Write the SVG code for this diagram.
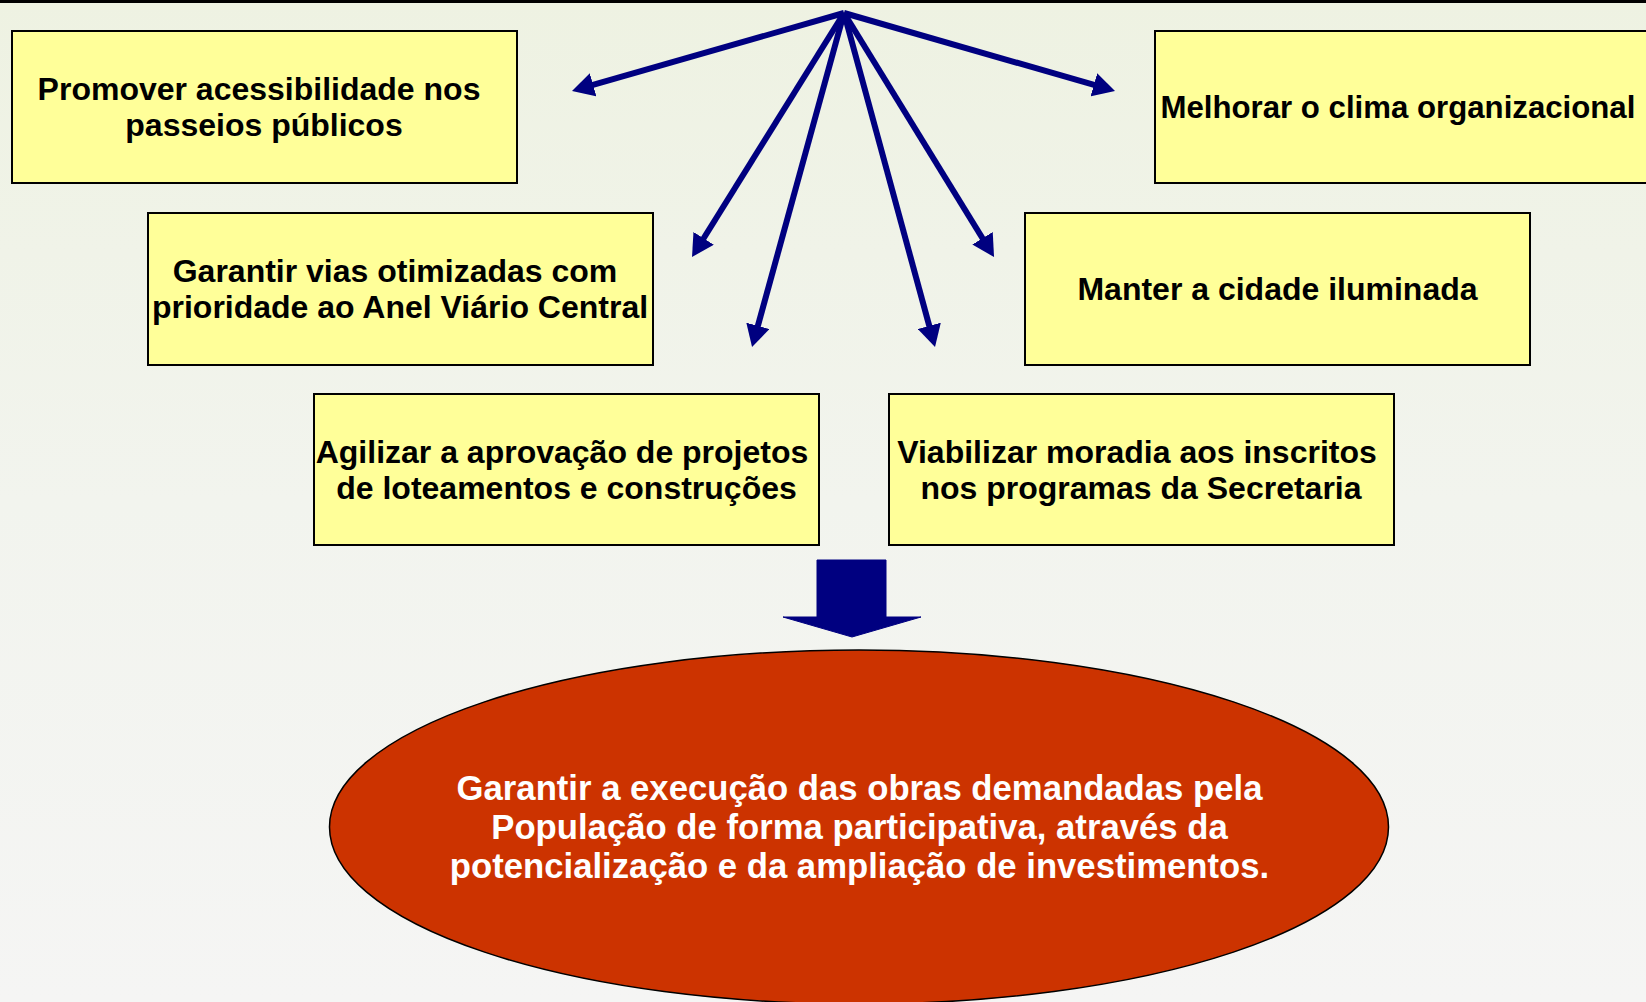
<svg xmlns="http://www.w3.org/2000/svg" width="1646" height="1002" viewBox="0 0 1646 1002">
  <defs>
    <linearGradient id="bg" x1="0" y1="0" x2="0" y2="1">
      <stop offset="0" stop-color="#EEF2E2"/>
      <stop offset="0.5" stop-color="#F2F4EE"/>
      <stop offset="1" stop-color="#F5F5F4"/>
    </linearGradient>
    <marker id="ah" viewBox="0 0 22 24" refX="12" refY="12" markerWidth="22" markerHeight="24" markerUnits="userSpaceOnUse" orient="auto">
      <path d="M0,0 L22,12 L0,24 Z" fill="#000080"/>
    </marker>
    <style>
      .box { fill: #FFFF99; stroke: #000000; stroke-width: 2; }
      .bt { font-family: "Liberation Sans", Arial, sans-serif; font-weight: bold; font-size: 32px; fill: #000000; text-anchor: middle; }
      .et { font-family: "Liberation Sans", Arial, sans-serif; font-weight: bold; font-size: 34.7px; fill: #FFFFFF; text-anchor: middle; }
      .conn { stroke: #000080; stroke-width: 6; fill: none; marker-end: url(#ah); }
    </style>
  </defs>

  <rect x="0" y="0" width="1646" height="1002" fill="url(#bg)"/>
  <line x1="0" y1="1.5" x2="1646" y2="1.5" stroke="#000000" stroke-width="3"/>

  <g id="connectors">
    <line class="conn" x1="844" y1="13" x2="581.6" y2="88.2"/>
    <line class="conn" x1="844" y1="13" x2="1105.4" y2="88.2"/>
    <line class="conn" x1="844" y1="13" x2="697.3" y2="248.5"/>
    <line class="conn" x1="844" y1="13" x2="988.8" y2="248.5"/>
    <line class="conn" x1="844" y1="13" x2="754.7" y2="337.4"/>
    <line class="conn" x1="844" y1="13" x2="932.4" y2="337.4"/>
    <path id="block-arrow" d="M817,560 L886,560 L886,617 L921,617 L852,637 L783,617 L817,617 Z" fill="#000080" stroke="#000080" stroke-width="1"/>
  </g>

  <g id="node-promover">
    <rect class="box" x="12" y="31" width="505" height="152"/>
    <text class="bt" x="259" y="99.5">Promover acessibilidade nos</text>
    <text class="bt" x="264" y="135.5">passeios públicos</text>
  </g>

  <g id="node-melhorar">
    <rect class="box" x="1155" y="31" width="505" height="152"/>
    <text class="bt" x="1160.5" y="117.5" style="text-anchor:start;font-size:31.2px">Melhorar o clima organizacional</text>
  </g>

  <g id="node-garantir-vias">
    <rect class="box" x="148" y="213" width="505" height="152"/>
    <text class="bt" x="395" y="282">Garantir vias otimizadas com</text>
    <text class="bt" x="400" y="317.5">prioridade ao Anel Viário Central</text>
  </g>

  <g id="node-manter">
    <rect class="box" x="1025" y="213" width="505" height="152"/>
    <text class="bt" x="1277.5" y="300">Manter a cidade iluminada</text>
  </g>

  <g id="node-agilizar">
    <rect class="box" x="314" y="394" width="505" height="151"/>
    <text class="bt" x="562" y="463">Agilizar a aprovação de projetos</text>
    <text class="bt" x="566.5" y="499">de loteamentos e construções</text>
  </g>

  <g id="node-viabilizar">
    <rect class="box" x="889" y="394" width="505" height="151"/>
    <text class="bt" x="1137" y="463">Viabilizar moradia aos inscritos</text>
    <text class="bt" x="1141" y="499">nos programas da Secretaria</text>
  </g>

  <g id="node-objetivo">
    <ellipse cx="859" cy="827" rx="529.5" ry="177" fill="#CC3300" stroke="#000000" stroke-width="1.5"/>
    <text class="et" x="859.5" y="799.5">Garantir a execução das obras demandadas pela</text>
    <text class="et" x="859.5" y="838.5">População de forma participativa, através da</text>
    <text class="et" x="859.5" y="877.5">potencialização e da ampliação de investimentos.</text>
  </g>
</svg>
